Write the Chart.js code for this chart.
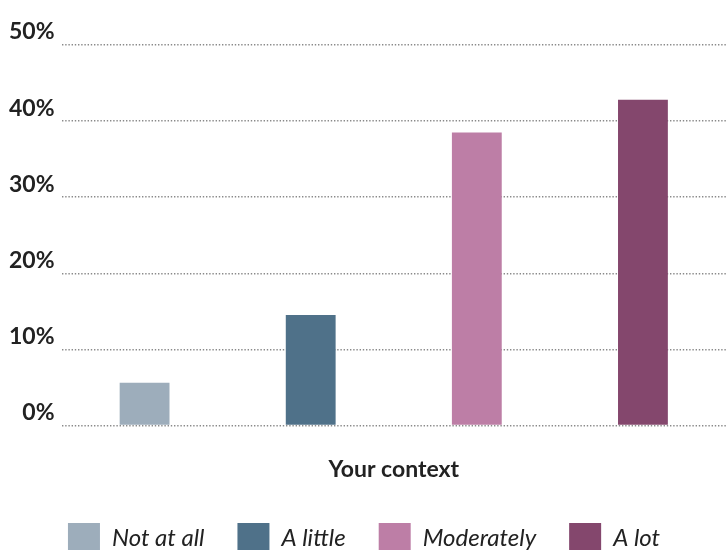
<!DOCTYPE html>
<html>
<head>
<meta charset="utf-8">
<script src="https://cdn.jsdelivr.net/npm/chart.js@4/dist/chart.umd.min.js"></script>
<style>
  html, body { margin: 0; padding: 0; background: #fff; overflow: hidden; }
  #wrap { width: 726px; height: 563px; position: relative; }
</style>
</head>
<body>
<div id="wrap"><canvas id="c"></canvas></div>
<script>
const categories = [''];
const seriesNames = ['Not at all', 'A little', 'Moderately', 'A lot'];
const seriesValues = [5.6, 14.5, 38.5, 42.8];
const seriesColors = ['#9dadbb', '#4f7189', '#bd7ea6', '#84476d'];
const yTicks = [0, 10, 20, 30, 40, 50];
const xTitle = 'Your context';

const datasets = seriesNames.map((name, i) => ({
  label: name,
  data: [seriesValues[i]],
  backgroundColor: seriesColors[i],
  borderWidth: 0,
  barPercentage: 0.3,
  categoryPercentage: 1.0
}));

new Chart(document.getElementById('c'), {
  type: 'bar',
  data: { labels: categories, datasets },
  options: {
    responsive: true,
    maintainAspectRatio: false,
    animation: false,
    layout: { padding: { left: 2, right: 0, top: 45, bottom: 0 } },
    plugins: {
      tooltip: { enabled: false },
      legend: {
        position: 'bottom',
        labels: {
          boxWidth: 32,
          boxHeight: 30,
          padding: 33,
          color: '#222',
          font: { family: 'Lato', size: 24, style: 'italic' }
        }
      }
    },
    scales: {
      x: {
        grid: { display: false },
        border: { display: false },
        ticks: { display: false },
        title: {
          display: true,
          text: xTitle,
          color: '#222',
          font: { family: 'Lato', size: 23, weight: 'bold' },
          padding: { top: 22, bottom: 7 }
        }
      },
      y: {
        min: 0,
        max: 50,
        afterBuildTicks: (axis) => { axis.ticks = yTicks.map(v => ({ value: v })); },
        grid: {
          color: '#8a8a8a',
          lineWidth: 1.4,
          drawTicks: false
        },
        border: { display: false, dash: [1.4, 1.8] },
        ticks: {
          padding: 7,
          labelOffset: -13,
          color: '#222',
          font: { family: 'Lato', size: 23, weight: 'bold' },
          callback: (v) => v + '%'
        }
      }
    }
  }
});
</script>
</body>
</html>
